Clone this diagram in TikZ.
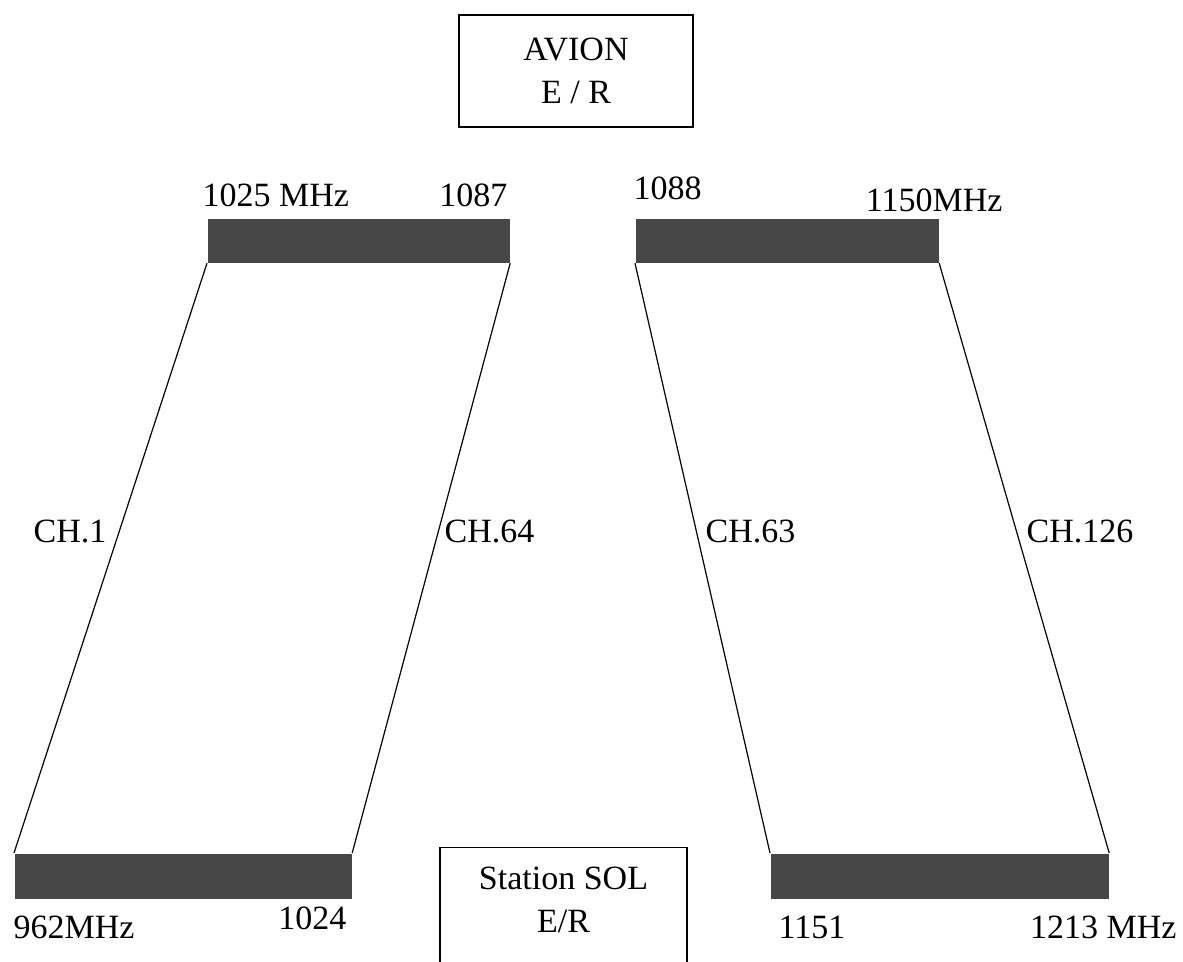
\documentclass[tikz,border=0pt]{standalone}
\usepackage{fontspec}
\setmainfont{Liberation Serif}

\tikzset{
  band/.style={fill=black!72, inner sep=0pt, minimum height=22pt, anchor=north west},
  lbl/.style={inner sep=0pt, font=\fontsize{17}{21.5}\selectfont},
  station/.style={draw, line width=0.6pt, align=center, inner sep=0pt,
    font=\fontsize{17}{21.5}\selectfont}
}

\begin{document}
\begin{tikzpicture}[x=0.5pt,y=-0.5pt,line width=0.6pt]
  \useasboundingbox (0,0) rectangle (1183,962);
  \clip (0,0) rectangle (1183,962);

  % stations
  \node[station, minimum width=117pt, minimum height=56pt] (avion) at (576,71) {AVION\\E / R};
  \node[station, minimum width=123.5pt, minimum height=70pt, anchor=north] (sol) at (563.5,847)
    {\rule{0pt}{21pt}Station SOL\\E/R\\[12pt]};

  % frequency bands
  \node[band, minimum width=151pt] (tl) at (207,218) {};
  \node[band, minimum width=151.5pt] (tr) at (635,218) {};
  \node[band, minimum width=168.5pt, minimum height=22.5pt] (bl) at (14,853) {};
  \node[band, minimum width=169pt, minimum height=22.5pt] (br) at (770,853) {};

  % channels
  \draw (tl.south west) -- (bl.north west);
  \draw (tl.south east) -- (bl.north east);
  \draw (tr.south west) -- (br.north west);
  \draw (tr.south east) -- (br.north east);

  \node[lbl, anchor=west] (f1025) at (202,195) {1025 MHz};
  \node[lbl, anchor=east] (f1087) at (508,195) {1087};
  \node[lbl, anchor=west] (f1088) at (633,188) {1088};
  \node[lbl, anchor=east] (f1150) at (1003,200) {1150MHz};
  \node[lbl, anchor=west] (f962) at (13,927) {962MHz};
  \node[lbl, anchor=east] (f1024) at (347,918) {1024};
  \node[lbl, anchor=west] (f1151) at (778,927) {1151};
  \node[lbl, anchor=east] (f1213) at (1177,927) {1213 MHz};

  \node[lbl, anchor=east] (ch1) at (107,531) {CH.1};
  \node[lbl, anchor=west] (ch64) at (444,531) {CH.64};
  \node[lbl, anchor=west] (ch63) at (705,531) {CH.63};
  \node[lbl, anchor=west] (ch126) at (1026,531) {CH.126};
\end{tikzpicture}
\end{document}
